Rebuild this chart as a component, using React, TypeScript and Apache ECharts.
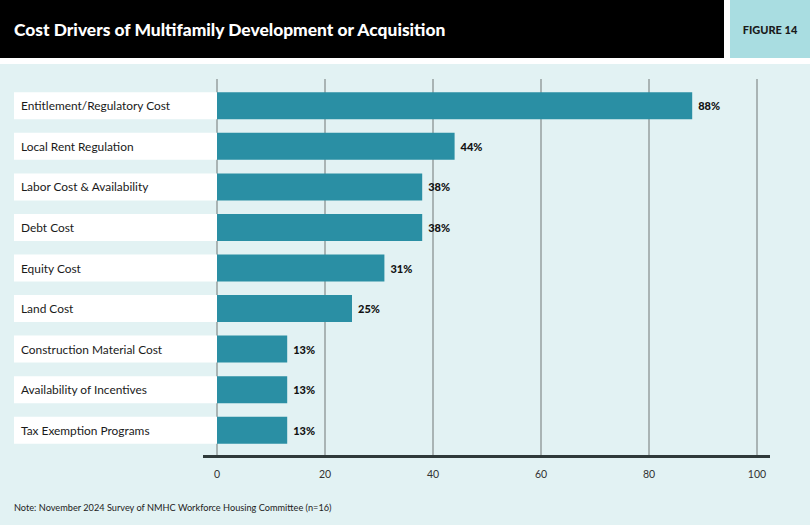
import React, { useEffect, useRef } from "react";
import * as echarts from "echarts";

const categories = [
  "Entitlement/Regulatory Cost",
  "Local Rent Regulation",
  "Labor Cost & Availability",
  "Debt Cost",
  "Equity Cost",
  "Land Cost",
  "Construction Material Cost",
  "Availability of Incentives",
  "Tax Exemption Programs",
];
const shares = [88, 44, 38, 38, 31, 25, 13, 13, 13];
const axisTicks = [0, 20, 40, 60, 80, 100];

const TITLE = "Cost Drivers of Multifamily Development or Acquisition";
const FIGURE = "FIGURE 14";
const NOTE = "Note: November 2024 Survey of NMHC Workforce Housing Committee (n=16)";

const FONT = "Lato, 'Open Sans', sans-serif";
const BAR = "#2a8fa4";

export default function App() {
  const ref = useRef<HTMLDivElement>(null);

  useEffect(() => {
    document.body.style.margin = "0";
    if (!ref.current) return;
    const chart = echarts.init(ref.current, null, { renderer: "svg" });

    const gridLeft = 217;
    const gridRight = 810 - 757;

    chart.setOption({
      animation: false,
      backgroundColor: "#ffffff",
      textStyle: { fontFamily: FONT },
      graphic: [
        { type: "rect", shape: { x: 0, y: 0, width: 724, height: 58 }, style: { fill: "#000" }, z: -10 },
        { type: "rect", shape: { x: 730, y: 0, width: 80, height: 58 }, style: { fill: "#a9dde1" }, z: -10 },
        { type: "rect", shape: { x: 0, y: 64, width: 810, height: 461 }, style: { fill: "#e2f2f3" }, z: -10 },
        {
          type: "text",
          x: 14,
          y: 29,
          style: { text: TITLE, fill: "#fff", font: `900 17.4px ${FONT}`, verticalAlign: "middle" },
        },
        {
          type: "text",
          x: 770,
          y: 29,
          style: { text: FIGURE, fill: "#1a1a1a", font: `900 11px ${FONT}`, align: "center", verticalAlign: "middle" },
        },
        {
          type: "line",
          shape: { x1: 203, y1: 456.5, x2: 770, y2: 456.5 },
          style: { stroke: "#2f3a3a", lineWidth: 3 },
          z: 5,
        },
        {
          type: "text",
          x: 14,
          y: 507,
          style: { text: NOTE, fill: "#222", font: `9.2px ${FONT}`, verticalAlign: "middle" },
        },
      ],
      grid: [
        { left: gridLeft, right: gridRight, top: 85.5, height: 365 },
        { left: gridLeft, right: gridRight, top: 79, height: 377 },
      ],
      xAxis: [
        { type: "value", gridIndex: 0, min: 0, max: 100, show: false },
        {
          type: "value",
          gridIndex: 1,
          min: axisTicks[0],
          max: axisTicks[axisTicks.length - 1],
          interval: axisTicks[1] - axisTicks[0],
          axisLine: { show: false },
          axisTick: { show: false },
          axisLabel: { color: "#333", fontSize: 10.5, margin: 12, fontFamily: FONT },
          splitLine: { show: true, lineStyle: { color: "#a9b4b4", width: 2 } },
        },
      ],
      yAxis: [
        { type: "category", gridIndex: 0, data: categories, inverse: true, show: false },
        { type: "value", gridIndex: 1, min: 0, max: 1, show: false },
      ],
      series: [
        {
          type: "bar",
          xAxisIndex: 0,
          yAxisIndex: 0,
          data: shares,
          barWidth: 27,
          itemStyle: { color: BAR },
          label: {
            show: true,
            position: "right",
            distance: 6,
            formatter: "{c}%",
            color: "#111",
            fontWeight: 900,
            fontSize: 11,
            fontFamily: FONT,
          },
          z: 3,
        },
        {
          type: "custom",
          xAxisIndex: 0,
          yAxisIndex: 0,
          clip: false,
          data: categories.map((c, i) => [0, i, c]),
          renderItem: (params: any, api: any) => {
            const idx = api.value(1);
            const pt = api.coord([0, idx]);
            const h = 27;
            return {
              type: "group",
              children: [
                {
                  type: "rect",
                  shape: { x: 14, y: pt[1] - h / 2, width: pt[0] - 14, height: h },
                  style: { fill: "#ffffff" },
                },
                {
                  type: "text",
                  x: 21,
                  y: pt[1],
                  style: {
                    text: categories[idx],
                    fill: "#1a1a1a",
                    font: `11.9px ${FONT}`,
                    verticalAlign: "middle",
                  },
                },
              ],
            };
          },
          z: 3,
        },
      ],
    });

    return () => chart.dispose();
  }, []);

  return (
    <div style={{ position: "absolute", left: 0, top: 0, width: 810, height: 525 }}>
      <div ref={ref} style={{ width: 810, height: 525 }} />
    </div>
  );
}
